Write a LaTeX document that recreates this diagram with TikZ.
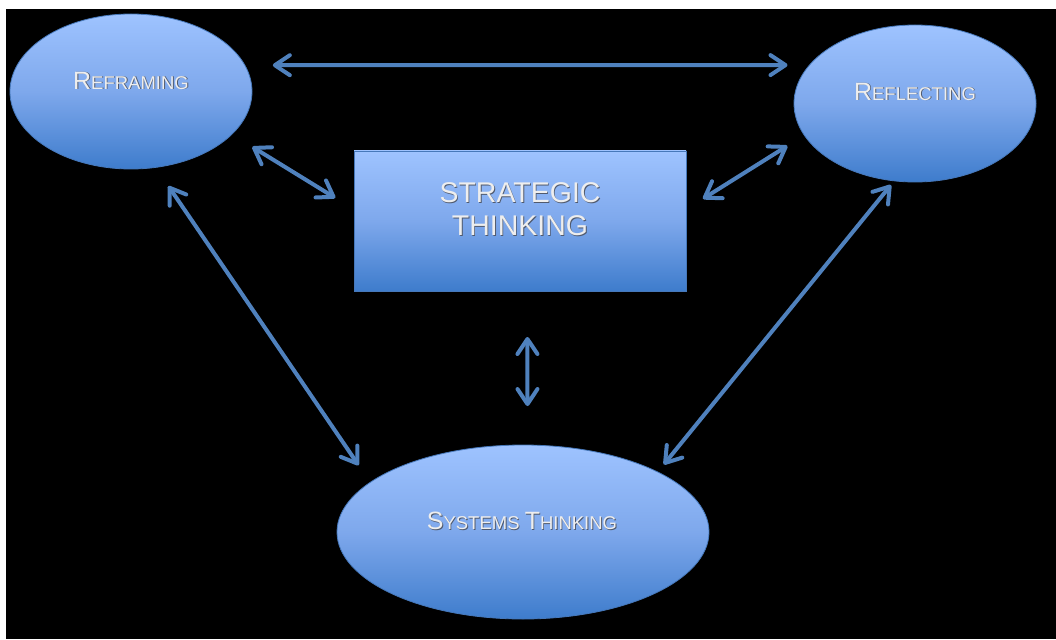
\documentclass[tikz,border=0pt]{standalone}
\usepackage{fontspec}
\setmainfont{Liberation Sans}
\usetikzlibrary{shapes.geometric,arrows.meta}

\definecolor{arrowblue}{RGB}{79,129,189}
\definecolor{shapetop}{RGB}{158,195,255}
\definecolor{shapemid}{RGB}{126,168,236}
\definecolor{shapebot}{RGB}{62,124,204}
\definecolor{shapeedge}{RGB}{70,120,186}
\definecolor{embtext}{RGB}{238,238,238}
\definecolor{embshadow}{RGB}{80,90,110}

% light lettering with a soft dark offset behind it
\newcommand{\embossed}[1]{%
  \makebox[0pt][l]{\raisebox{-0.9pt}{\hspace{0.9pt}\textcolor{embshadow}{#1}}}%
  \textcolor{embtext}{#1}}
% hand-made small capitals: tall initial, smaller remainder
\newcommand{\smallcap}[2]{{\fontsize{25}{30}\selectfont #1}{\fontsize{18.5}{22}\selectfont #2}}

\begin{document}
\begin{tikzpicture}[x=1pt,y=-1pt,
  bubble/.style={ellipse, draw=shapeedge, line width=0.8pt, outer sep=0pt, inner sep=0pt,
    top color=shapetop, bottom color=shapebot, middle color=shapemid},
  panel/.style={rectangle, draw=shapeedge, line width=0.8pt, outer sep=0pt, inner sep=0pt,
    minimum width=332pt, minimum height=140pt,
    top color=shapetop, bottom color=shapebot, middle color=shapemid},
  caption/.style={inner sep=0pt, outer sep=0pt, align=center},
  link/.style={draw=arrowblue, line width=4pt, line cap=round,
    {Straight Barb[length=15pt,width=20pt,round]}-{Straight Barb[length=15pt,width=20pt,round]}}
]
  % page and dark backdrop
  \useasboundingbox (0,0) rectangle (1056,639);
  \fill[white] (0,0) rectangle (1056,639);
  \fill[black] (6,9) rectangle (1056,639);

  % shapes
  \node[bubble, minimum width=242pt, minimum height=155pt] (ref)  at (131,91.5) {};
  \node[bubble, minimum width=242pt, minimum height=157pt] (refl) at (915,103.5) {};
  \node[bubble, minimum width=372pt, minimum height=174pt] (sys)  at (523,532) {};
  \node[panel] (str) at (520,221) {};

  % labels
  \node[caption] (refT)  at (131,81)    {\embossed{\smallcap{R}{EFRAMING}}};
  \node[caption] (reflT) at (915,92)    {\embossed{\smallcap{R}{EFLECTING}}};
  \node[caption] (sysT)  at (522,521)   {\embossed{\smallcap{S}{YSTEMS }\smallcap{T}{HINKING}}};
  \node[caption, font=\fontsize{28.5}{33}\selectfont] (strT) at (520,209.5)
    {\embossed{STRATEGIC}\\\embossed{THINKING}};

  % two-way connectors
  \draw[link, shorten <=28pt, shorten >=22pt]   (ref.13)   -- (refl.160);
  \draw[link, shorten <=24pt, shorten >=22pt]   (ref.337)  -- (str.176);
  \draw[link, shorten <=20pt, shorten >=20pt]   (str.4)    -- (refl.196);
  \draw[link, shorten <=46pt, shorten >=39pt]   (str.276)  -- (sys.87);
  \draw[link, shorten <=22.6pt, shorten >=20.7pt] (ref.288) -- (sys.162);
  \draw[link, shorten <=5.3pt, shorten >=9.7pt] (refl.255) -- (sys.24);
\end{tikzpicture}
\end{document}
